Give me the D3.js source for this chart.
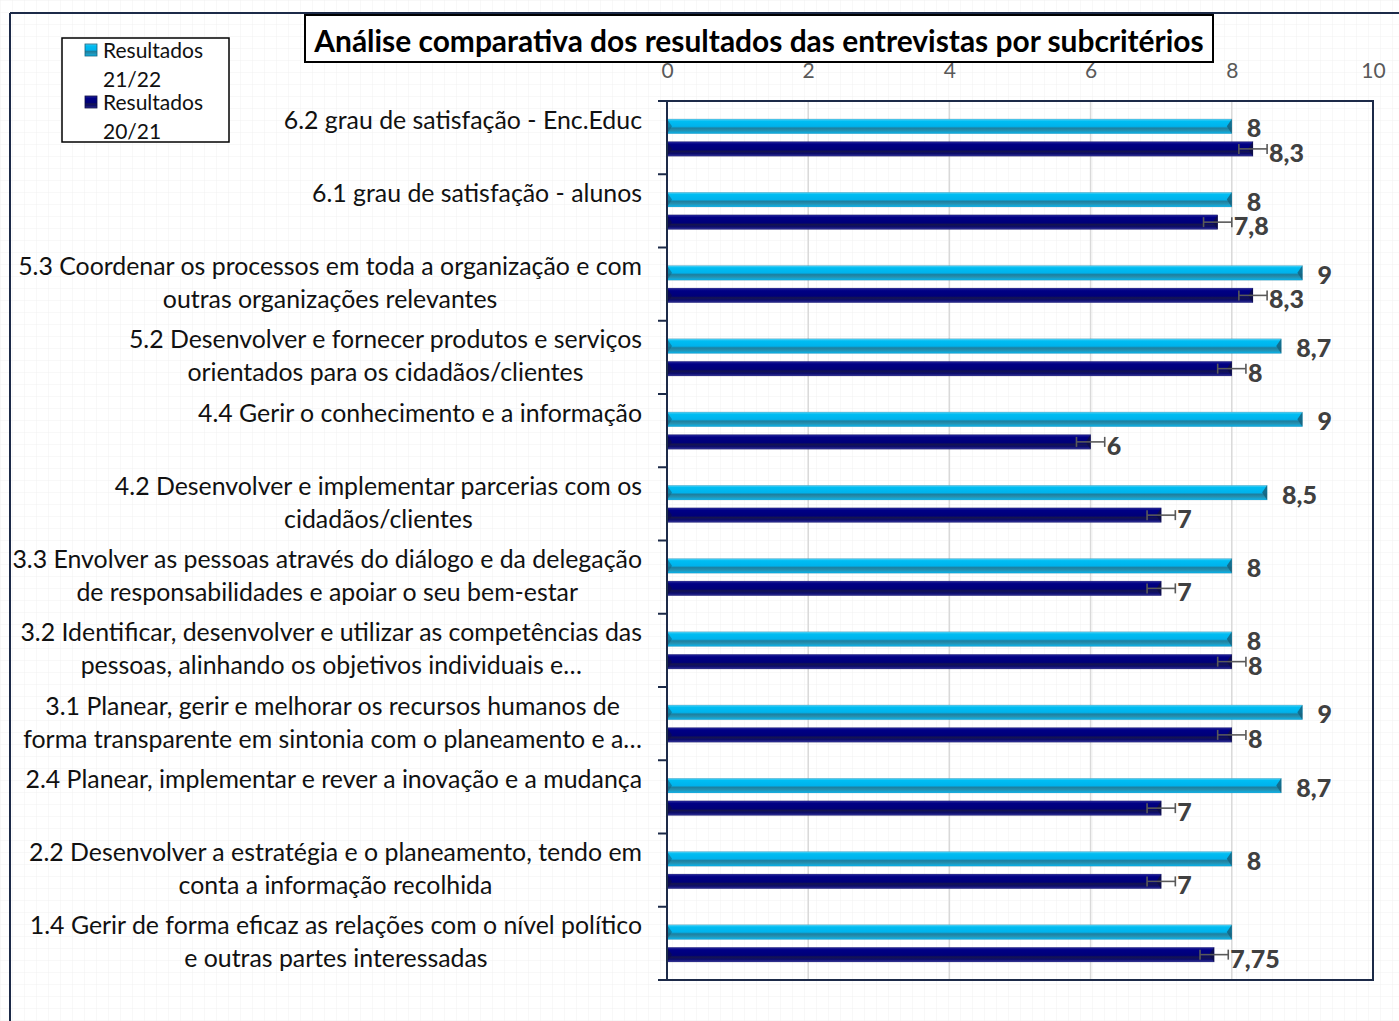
<!DOCTYPE html>
<html>
<head>
<meta charset="utf-8">
<script src="https://cdn.jsdelivr.net/npm/d3@7"></script>
<style>
  body { margin: 0; background: #fff; }
  svg { display: block; }
  text { font-family: Lato, "Open Sans", sans-serif; }
</style>
</head>
<body>
<div id="chart"></div>
<script>
// categories top to bottom, "\n" marks the label line break
const categories = [
    "6.2 grau de satisfação - Enc.Educ",
    "6.1 grau de satisfação - alunos",
    "5.3 Coordenar os processos em toda a organização e com\noutras organizações relevantes",
    "5.2 Desenvolver e fornecer produtos e serviços\norientados para os cidadãos/clientes",
    "4.4 Gerir o conhecimento e a informação",
    "4.2 Desenvolver e implementar parcerias com os\ncidadãos/clientes",
    "3.3 Envolver as pessoas através do diálogo e da delegação\nde responsabilidades e apoiar o seu bem-estar",
    "3.2 Identificar, desenvolver e utilizar as competências das\npessoas, alinhando os objetivos individuais e…",
    "3.1 Planear, gerir e melhorar os recursos humanos de\nforma transparente em sintonia com o planeamento e a…",
    "2.4 Planear, implementar e rever a inovação e a mudança",
    "2.2 Desenvolver a estratégia e o planeamento, tendo em\nconta a informação recolhida",
    "1.4 Gerir de forma eficaz as relações com o nível político\ne outras partes interessadas"
];
const series = ["Resultados 21/22", "Resultados 20/21"];
const values2122 = [8, 8, 9, 8.7, 9, 8.5, 8, 8, 9, 8.7, 8, 8];
const values2021 = [8.3, 7.8, 8.3, 8, 6, 7, 7, 8, 8, 7, 7, 7.75];
const errors2021 = [0.2, 0.2, 0.2, 0.2, 0.2, 0.2, 0.2, 0.2, 0.2, 0.2, 0.2, 0.2];
const showLabel2122 = [true, true, true, true, true, true, true, true, true, true, true, false];
const xTicks = [0, 2, 4, 6, 8, 10];
const title = "Análise comparativa dos resultados das entrevistas por subcritérios";

const W = 1399, H = 1021;
const plot = { left: 667, right: 1373, top: 101, bottom: 980 };

const svg = d3.select("#chart").append("svg")
    .attr("width", W)
    .attr("height", H);

const defs = svg.append("defs");

// faint page grid in the background
const pat = defs.append("pattern")
    .attr("id", "bggrid")
    .attr("width", 12).attr("height", 12)
    .attr("patternUnits", "userSpaceOnUse");
pat.append("rect").attr("width", 12).attr("height", 12).attr("fill", "#fff");
pat.append("path").attr("d", "M12 0 L0 0 L0 12")
    .attr("fill", "none").attr("stroke", "#f1f1f1").attr("stroke-width", 1);
svg.append("rect").attr("width", W).attr("height", H).attr("fill", "url(#bggrid)");

function gradient(id, stops) {
    const g = defs.append("linearGradient")
        .attr("id", id)
        .attr("x1", 0).attr("y1", 0).attr("x2", 0).attr("y2", 1);
    stops.forEach(s => g.append("stop").attr("offset", s[0]).attr("stop-color", s[1]));
}
gradient("gLight", [["0%", "#5fd3f5"], ["15%", "#00bdf2"], ["50%", "#00b2ec"], ["62%", "#1d7f9f"], ["78%", "#2590b0"], ["100%", "#07b5ee"]]);
gradient("gDark", [["0%", "#2a2a9a"], ["18%", "#000084"], ["55%", "#000078"], ["66%", "#15154f"], ["82%", "#0c0c6c"], ["100%", "#33339a"]]);

// outer frame
svg.append("line").attr("x1", 10).attr("x2", 10).attr("y1", 13).attr("y2", H)
    .attr("stroke", "#1c2a48").attr("stroke-width", 2);
svg.append("line").attr("x1", 10).attr("x2", W).attr("y1", 13).attr("y2", 13)
    .attr("stroke", "#1c2a48").attr("stroke-width", 2);

// scales
const x = d3.scaleLinear().domain([0, 10]).range([plot.left, plot.right]);
const y0 = d3.scaleBand().domain(categories).range([plot.top, plot.bottom]);
const y1 = d3.scaleBand().domain(series).range([0, y0.bandwidth()])
    .paddingInner(0.35).paddingOuter(0.8);

// gridlines
svg.append("g")
    .selectAll("line")
    .data(xTicks.filter(t => t > 0 && t < 10))
    .join("line")
    .attr("x1", d => x(d)).attr("x2", d => x(d))
    .attr("y1", plot.top).attr("y2", plot.bottom)
    .attr("stroke", "#d9d9d9").attr("stroke-width", 1.5);

// top axis labels
const xAxis = svg.append("g")
    .attr("transform", `translate(0,88)`)
    .call(d3.axisTop(x).tickValues(xTicks).tickSize(0).tickPadding(10).tickFormat(d3.format("d")));
xAxis.select(".domain").remove();
xAxis.selectAll("text")
    .attr("fill", "#595959")
    .style("font-size", "21px")
    .style("font-family", "Lato, 'Open Sans', sans-serif");

// category tick marks
const boundaries = categories.map(c => y0(c)).concat([plot.bottom]);
svg.append("g")
    .selectAll("line")
    .data(boundaries)
    .join("line")
    .attr("x1", plot.left - 9).attr("x2", plot.left)
    .attr("y1", d => d).attr("y2", d => d)
    .attr("stroke", "#1c2a48").attr("stroke-width", 2);

// bars
function drawBars(vals, key, fill, capColor) {
    const g = svg.append("g");
    categories.forEach((c, i) => {
        const top = y0(c) + y1(key);
        const h = y1.bandwidth();
        const xe = x(vals[i]);
        g.append("rect")
            .attr("x", x(0)).attr("y", top)
            .attr("width", xe - x(0)).attr("height", h)
            .attr("fill", fill)
            .attr("stroke", capColor).attr("stroke-width", 0.5).attr("stroke-opacity", 0.4);
        // bevel end caps
        g.append("path")
            .attr("d", `M${xe},${top} L${xe},${top + h} L${xe - 5},${top + h / 2} Z`)
            .attr("fill", capColor).attr("opacity", 0.85);
        g.append("path")
            .attr("d", `M${x(0)},${top} L${x(0)},${top + h} L${x(0) + 5},${top + h / 2} Z`)
            .attr("fill", capColor).attr("opacity", 0.6);
    });
}
drawBars(values2122, series[0], "url(#gLight)", "#17627c");
drawBars(values2021, series[1], "url(#gDark)", "#0d0d45");

// error bars on 20/21
const eg = svg.append("g").attr("stroke", "#595959").attr("stroke-width", 1.6);
categories.forEach((c, i) => {
    const cy = y0(c) + y1(series[1]) + y1.bandwidth() / 2;
    const a = x(values2021[i] - errors2021[i]), b = x(values2021[i] + errors2021[i]);
    eg.append("line").attr("x1", a).attr("x2", b).attr("y1", cy).attr("y2", cy);
    eg.append("line").attr("x1", a).attr("x2", a).attr("y1", cy - 5).attr("y2", cy + 5);
    eg.append("line").attr("x1", b).attr("x2", b).attr("y1", cy - 5).attr("y2", cy + 5);
});

// plot frame
svg.append("rect")
    .attr("x", plot.left).attr("y", plot.top)
    .attr("width", plot.right - plot.left).attr("height", plot.bottom - plot.top)
    .attr("fill", "none").attr("stroke", "#1c2a48").attr("stroke-width", 2);

// value labels
const fmt = v => String(v).replace(".", ",");
const lg = svg.append("g")
    .style("font-size", "25px").style("font-weight", "900").attr("fill", "#404040");
categories.forEach((c, i) => {
    if (showLabel2122[i]) {
        lg.append("text")
            .attr("x", x(values2122[i]) + 15)
            .attr("y", y0(c) + y1(series[0]) + y1.bandwidth() / 2 + 1)
            .attr("dominant-baseline", "central")
            .text(fmt(values2122[i]));
    }
    lg.append("text")
        .attr("x", x(values2021[i] + errors2021[i]) + 2)
        .attr("y", y0(c) + y1(series[1]) + y1.bandwidth() / 2 + 3)
        .attr("dominant-baseline", "central")
        .text(fmt(values2021[i]));
});

// category labels: block right-aligned, lines centered inside the block
const labelRight = 642;
let catSize = 22;
const cg = svg.append("g").attr("fill", "#111");
const labelNodes = categories.map(c => {
    const t = cg.append("text").attr("text-anchor", "middle").style("font-size", catSize + "px");
    c.split("\n").forEach((line, k) => t.append("tspan").attr("data-k", k).text(line));
    return t;
});
// fit the widest line to the reference width
let widest = 0;
cg.selectAll("tspan").each(function () { widest = Math.max(widest, this.getComputedTextLength()); });
catSize = catSize * 630 / widest;
labelNodes.forEach((t, i) => {
    t.style("font-size", catSize + "px");
    let bw = 0;
    t.selectAll("tspan").each(function () { bw = Math.max(bw, this.getComputedTextLength()); });
    const cx = labelRight - bw / 2;
    const mid = y0(categories[i]) + y0.bandwidth() / 2;
    t.selectAll("tspan")
        .attr("x", cx)
        .attr("y", function () { return mid + (+this.getAttribute("data-k") === 0 ? -19 : 14); })
        .attr("dominant-baseline", "central");
});

// title box
const tb = { x: 305, y: 15, w: 908, h: 47 };
svg.append("rect")
    .attr("x", tb.x).attr("y", tb.y).attr("width", tb.w).attr("height", tb.h)
    .attr("fill", "#fff").attr("stroke", "#000").attr("stroke-width", 2);
const tt = svg.append("text")
    .attr("x", tb.x + tb.w / 2).attr("y", tb.y + tb.h / 2 + 1)
    .attr("text-anchor", "middle").attr("dominant-baseline", "central")
    .style("font-size", "27px").style("font-weight", "bold").attr("fill", "#000")
    .text(title);
const tw = tt.node().getComputedTextLength();
tt.style("font-size", (27 * 890 / tw) + "px");

// legend
const leg = svg.append("g");
leg.append("rect").attr("x", 62).attr("y", 38).attr("width", 167).attr("height", 104)
    .attr("fill", "#fff").attr("stroke", "#000").attr("stroke-width", 1.5);
const legFills = ["url(#gLight)", "url(#gDark)"];
const legCaps = ["#17627c", "#0d0d45"];
series.forEach((s, i) => {
    const top = 44 + i * 52;
    leg.append("rect").attr("x", 85).attr("y", top).attr("width", 12).attr("height", 12)
        .attr("fill", legFills[i]).attr("stroke", legCaps[i]).attr("stroke-width", 0.8);
    const parts = s.split(" ");
    parts.forEach((p, k) => {
        leg.append("text")
            .attr("x", 103).attr("y", top + 5 + k * 29)
            .attr("dominant-baseline", "central")
            .style("font-size", "21px").attr("fill", "#111")
            .text(p);
    });
});
</script>
</body>
</html>
